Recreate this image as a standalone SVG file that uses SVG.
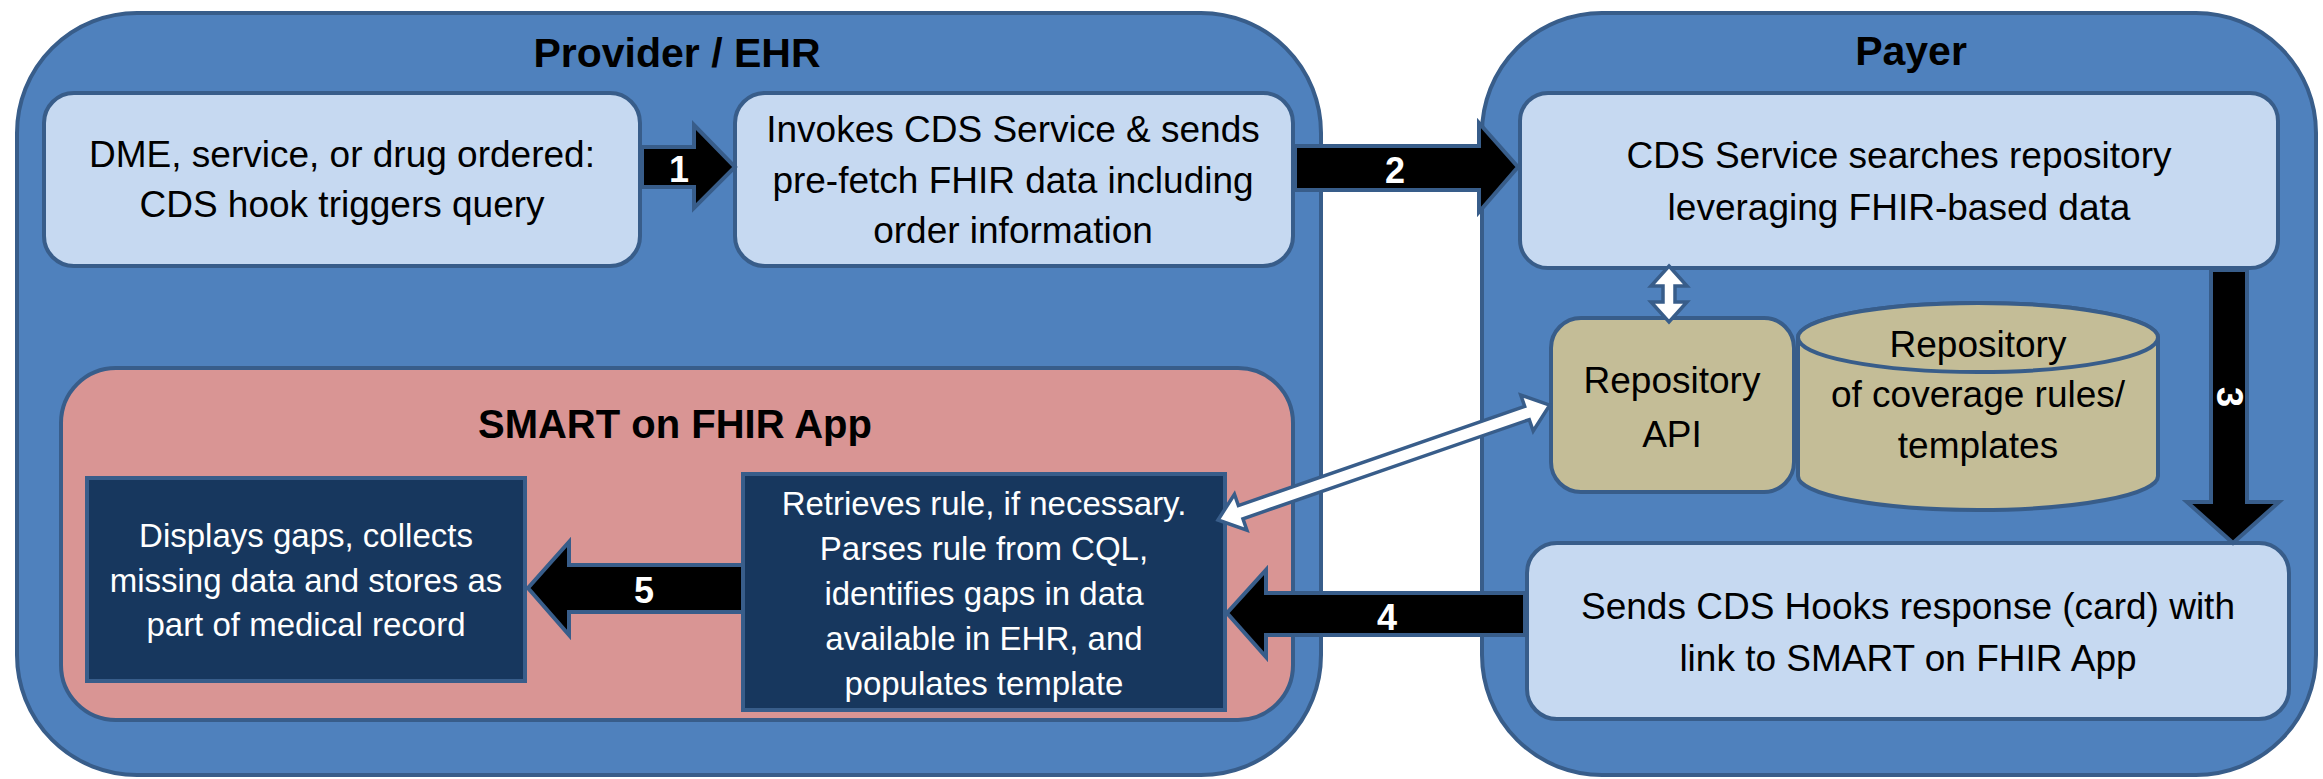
<svg xmlns="http://www.w3.org/2000/svg" width="2323" height="779" viewBox="0 0 2323 779">
<style>
.container{fill:#4f81bd;stroke:#385d8a;stroke-width:4}
.light{fill:#c6d9f1;stroke:#385d8a;stroke-width:4}
.pink{fill:#d99594;stroke:#385d8a;stroke-width:4}
.dark{fill:#17375e;stroke:#385d8a;stroke-width:4}
.tan{fill:#c4bd97;stroke:#385d8a;stroke-width:4}
.blk{fill:#000;stroke:#385d8a;stroke-width:4;stroke-linejoin:miter}
.wht{fill:#fff;stroke:#385d8a;stroke-width:3.5;stroke-linejoin:miter}
text{font-family:"Liberation Sans",Arial,sans-serif;text-anchor:middle}
.title{font-size:41px;font-weight:bold;fill:#000}
.t{font-size:37px;fill:#000}
.tw{font-size:33px;fill:#fff}
.num{font-size:36px;font-weight:bold;fill:#fff}
</style>
<g id="provider">
<rect class="container" x="17" y="13" width="1304" height="762" rx="120" ry="120"/>
<text class="title" x="677" y="67">Provider / EHR</text>
</g>
<g id="payer">
<rect class="container" x="1482" y="13" width="834" height="762" rx="120" ry="120"/>
<text class="title" x="1911" y="65">Payer</text>
</g>
<g id="smart">
<rect class="pink" x="61" y="368" width="1232" height="352" rx="55" ry="55"/>
<text class="title" x="675" y="438" style="font-size:40px">SMART on FHIR App</text>
</g>
<g id="dme">
<rect class="light" x="44" y="93" width="596" height="173" rx="30" ry="30"/>
<text class="t" x="342" y="167">DME, service, or drug ordered:</text>
<text class="t" x="342" y="217">CDS hook triggers query</text>
</g>
<g id="invokes">
<rect class="light" x="735" y="93" width="558" height="173" rx="30" ry="30"/>
<text class="t" x="1013" y="142">Invokes CDS Service &amp; sends</text>
<text class="t" x="1013" y="193">pre-fetch FHIR data including</text>
<text class="t" x="1013" y="243">order information</text>
</g>
<g id="cds-service">
<rect class="light" x="1520" y="93" width="758" height="175" rx="28" ry="28"/>
<text class="t" x="1899" y="168">CDS Service searches repository</text>
<text class="t" x="1899" y="220">leveraging FHIR-based data</text>
</g>
<g id="repo-api">
<rect class="tan" x="1551" y="318" width="243" height="174" rx="30" ry="30"/>
<text class="t" x="1672" y="393">Repository</text>
<text class="t" x="1672" y="447">API</text>
</g>
<g id="repository">
<path class="tan" d="M1798,337.5 L1798,476 A180,34 0 0 0 2158,476 L2158,337.5 A180,34.5 0 0 0 1798,337.5 Z"/>
<ellipse class="tan" cx="1978" cy="337.5" rx="180" ry="34.5"/>
<text class="t" x="1978" y="357">Repository</text>
<text class="t" x="1978" y="407">of coverage rules/</text>
<text class="t" x="1978" y="458">templates</text>
</g>
<g id="sends">
<rect class="light" x="1527" y="543" width="762" height="176" rx="30" ry="30"/>
<text class="t" x="1908" y="619">Sends CDS Hooks response (card) with</text>
<text class="t" x="1908" y="671">link to SMART on FHIR App</text>
</g>
<g id="retrieves">
<rect class="dark" x="743" y="474" width="482" height="236"/>
<text class="tw" x="984" y="515">Retrieves rule, if necessary.</text>
<text class="tw" x="984" y="560">Parses rule from CQL,</text>
<text class="tw" x="984" y="605">identifies gaps in data</text>
<text class="tw" x="984" y="650">available in EHR, and</text>
<text class="tw" x="984" y="695">populates template</text>
</g>
<g id="displays">
<rect class="dark" x="87" y="478" width="438" height="203"/>
<text class="tw" x="306" y="547">Displays gaps, collects</text>
<text class="tw" x="306" y="592">missing data and stores as</text>
<text class="tw" x="306" y="636">part of medical record</text>
</g>
<g id="connectors">
<polygon class="blk" points="642,147 694,147 694,125 735,167 694,208 694,187 642,187"/>
<text class="num" x="679" y="182">1</text>
<polygon class="blk" points="1295,146 1479,146 1479,123 1518,167 1479,212 1479,190 1295,190"/>
<text class="num" x="1395" y="183">2</text>
<polygon class="blk" points="2211,270 2247,270 2247,502 2279,502 2233,543 2187,502 2211,502"/>
<text class="num" transform="translate(2230,397) rotate(90)" x="0" y="13">3</text>
<polygon class="blk" points="1525,593 1266,593 1266,570 1227,613 1266,657 1266,635 1525,635"/>
<text class="num" x="1387" y="630">4</text>
<polygon class="blk" points="743,565 569,565 569,542 528,588 569,635 569,612 743,612"/>
<text class="num" x="644" y="603">5</text>
<polygon class="wht" points="1669,266 1687,286 1675,286 1675,302 1687,302 1669,322 1651,302 1663,302 1663,286 1651,286"/>
<polygon class="wht" transform="translate(1218,520) rotate(-19.1)" points="0,0 24,-19 24,-7 327,-7 327,-19 351,0 327,19 327,7 24,7 24,19"/>
</g>
</svg>
